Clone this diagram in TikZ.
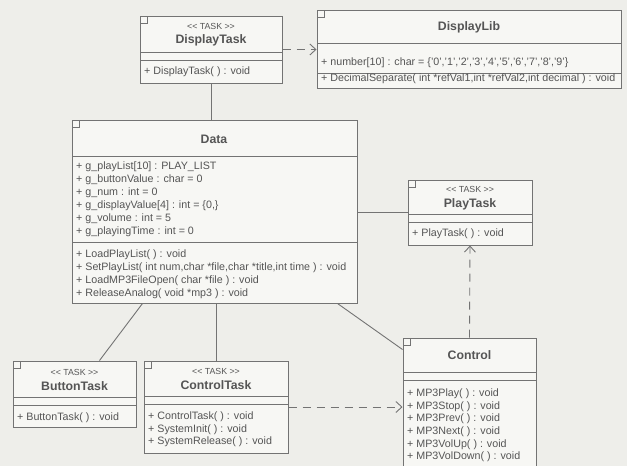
\documentclass[tikz,border=0pt]{standalone}
\usepackage{fontspec}
\setmainfont{Liberation Sans}
\usepackage{tikz}
\usetikzlibrary{arrows.meta,positioning,fit}
\definecolor{umlpaper}{RGB}{238,238,234}
\definecolor{umlfill}{RGB}{247,247,244}
\definecolor{umlline}{RGB}{115,115,115}
\definecolor{umlink}{RGB}{85,85,85}
\tikzset{
  umlbox/.style={
    rectangle,
    draw=umlline,
    fill=umlfill,
    line width=1pt,
    inner sep=0pt
  },
  umlname/.style={
    font=\fontsize{12.3}{14}\selectfont\bfseries,
    text=umlink,
    inner sep=0pt
  },
  umlstereo/.style={
    font=\fontsize{8.8}{10}\selectfont,
    text=umlink,
    inner sep=0pt
  },
  umlmember/.style={
    font=\fontsize{10.7}{13}\selectfont,
    text=umlink,
    align=left,
    anchor=north west,
    execute at begin node=\strut,
    inner sep=0pt
  },
  umlsep/.style={
    draw=umlline,
    line width=1pt
  },
  umlicon/.style={
    draw=umlline,
    line width=0.6pt
  },
  umlassoc/.style={
    draw=umlline,
    line width=0.9pt
  },
  umldep/.style={
    draw=umlline,
    line width=0.9pt,
    dash pattern=on 8pt off 6pt,
    -{Straight Barb[length=6pt,width=11pt]}
  }
}

\begin{document}
\begin{tikzpicture}[x=1pt,y=-1pt]
\fill[umlpaper] (0,0) rectangle (627,466);
\clip (0,0) rectangle (627,466);

% class boxes
\node[umlbox, fit={(140,16) (282,83)}] (displaytask) {};
\node[umlbox, fit={(317,10) (621,88)}] (displaylib) {};
\node[umlbox, fit={(72,120) (357,303)}] (data) {};
\node[umlbox, fit={(408,180) (532,245)}] (playtask) {};
\node[umlbox, fit={(13,361) (136,427)}] (buttontask) {};
\node[umlbox, fit={(144,361) (288,453)}] (controltask) {};
\node[umlbox, fit={(403,338) (536,478)}] (control) {};

% compartments
\draw[umlsep] (140,52) -- (282,52) (140,60) -- (282,60);
\draw[umlsep] (317,43) -- (621,43) (317,73) -- (621,73);
\draw[umlsep] (72,156) -- (357,156) (72,242) -- (357,242);
\draw[umlsep] (408,214) -- (532,214) (408,222) -- (532,222);
\draw[umlsep] (13,397) -- (136,397) (13,405) -- (136,405);
\draw[umlsep] (144,396) -- (288,396) (144,404) -- (288,404);
\draw[umlsep] (403,372) -- (536,372) (403,380) -- (536,380);

% corner icons
\draw[umlicon] ([shift={(1pt,-1pt)}]displaytask.north west) rectangle ++(7pt,-7pt);
\draw[umlicon] ([shift={(1pt,-1pt)}]displaylib.north west) rectangle ++(7pt,-7pt);
\draw[umlicon] ([shift={(1pt,-1pt)}]data.north west) rectangle ++(7pt,-7pt);
\draw[umlicon] ([shift={(1pt,-1pt)}]playtask.north west) rectangle ++(7pt,-7pt);
\draw[umlicon] ([shift={(1pt,-1pt)}]buttontask.north west) rectangle ++(7pt,-7pt);
\draw[umlicon] ([shift={(1pt,-1pt)}]controltask.north west) rectangle ++(7pt,-7pt);
\draw[umlicon] ([shift={(1pt,-1pt)}]control.north west) rectangle ++(7pt,-7pt);

% texts
\node[umlstereo] (dtstereo) at (211,26) {<{}< TASK >{}>};
\node[umlname] (dtname) at (211,40) {DisplayTask};
\node[umlmember] (dtops) at (144,65.4) {+ DisplayTask( ) : void};

\node[umlname] (dlname) at (469,27) {DisplayLib};
\node[umlmember] (dlattr) at (321,56.4) {+ number[10] : char = \{'0','1','2','3','4','5','6','7','8','9'\}};
\node[umlmember] (dlops) at (321,72.6) {+ DecimalSeparate( int *refVal1,int *refVal2,int decimal ) : void};

\node[umlname] (dataname) at (214,139) {Data};
\node[umlmember] (dataattr) at (76,161.4) {+ g\_playList[10] : PLAY\_LIST\\+ g\_buttonValue : char = 0\\+ g\_num : int = 0\\+ g\_displayValue[4] : int = \{0,\}\\+ g\_volume : int = 5\\+ g\_playingTime : int = 0};
\node[umlmember] (dataops) at (76,249.4) {+ LoadPlayList( ) : void\\+ SetPlayList( int num,char *file,char *title,int time ) : void\\+ LoadMP3FileOpen( char *file ) : void\\+ ReleaseAnalog( void *mp3 ) : void};

\node[umlstereo] (ptstereo) at (470,189) {<{}< TASK >{}>};
\node[umlname] (ptname) at (470,204) {PlayTask};
\node[umlmember] (ptops) at (412,227.4) {+ PlayTask( ) : void};

\node[umlstereo] (btstereo) at (74.5,372) {<{}< TASK >{}>};
\node[umlname] (btname) at (74.5,386) {ButtonTask};
\node[umlmember] (btops) at (17,411.4) {+ ButtonTask( ) : void};

\node[umlstereo] (ctstereo) at (216,371) {<{}< TASK >{}>};
\node[umlname] (ctname) at (216,385) {ControlTask};
\node[umlmember, font=\fontsize{10.7}{12.5}\selectfont] (ctops) at (148,411.7) {+ ControlTask( ) : void\\+ SystemInit( ) : void\\+ SystemRelease( ) : void};

\node[umlname] (cname) at (469.5,355) {Control};
\node[umlmember, font=\fontsize{10.7}{12.6}\selectfont] (cops) at (407,388.7) {+ MP3Play( ) : void\\+ MP3Stop( ) : void\\+ MP3Prev( ) : void\\+ MP3Next( ) : void\\+ MP3VolUp( ) : void\\+ MP3VolDown( ) : void};

% connectors
\draw[umldep] (displaytask.east) -- (displaytask.east -| displaylib.west);
\draw[umlassoc] (displaytask.south) -- (displaytask.south |- data.north);
\draw[umlassoc] (data.east |- playtask.west) -- (playtask.west);
\draw[umldep] (control.north) -- (playtask.south);
\draw[umlassoc] ([xshift=71pt]data.south west) -- ([xshift=87pt]buttontask.north west);
\draw[umlassoc] (controltask.north |- data.south) -- (controltask.north);
\draw[umlassoc] ([xshift=-20pt]data.south east) -- ([yshift=-12pt]control.north west);
\draw[umldep] (controltask.east) -- (controltask.east -| control.west);
\end{tikzpicture}
\end{document}
